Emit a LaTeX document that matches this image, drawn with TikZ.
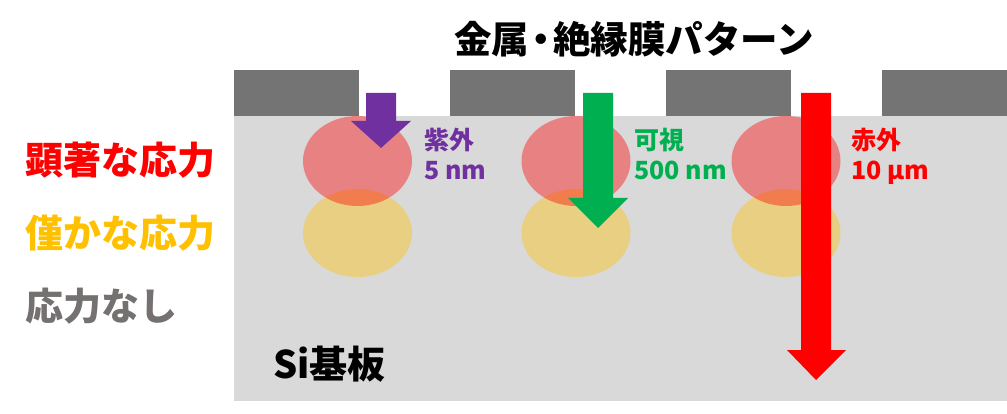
\documentclass[tikz,border=0pt]{standalone}
\usepackage{fontspec}
\setmainfont{Noto Sans CJK JP}
\definecolor{substrate}{HTML}{D9D9D9}
\definecolor{metal}{HTML}{747474}
\definecolor{uvcol}{HTML}{7030A0}
\definecolor{viscol}{HTML}{00B050}
\definecolor{ircol}{HTML}{FF0000}
\definecolor{weakcol}{HTML}{FFC000}
\definecolor{nonecol}{HTML}{767171}
\begin{document}
\begin{tikzpicture}[x=1pt,y=-1pt,
    strong/.style={fill=ircol,fill opacity=0.4},
    weak/.style={fill=weakcol,fill opacity=0.4},
    lbl/.style={anchor=base west,inner sep=0pt,font=\bfseries\fontsize{25}{30}\selectfont},
    legend/.style={anchor=base west,inner sep=0pt,font=\bfseries\fontsize{38}{40}\selectfont}]
    \useasboundingbox (0,0) rectangle (1007,414);
    % substrate
    \fill [substrate] (234,116) rectangle (1007,401);
    % metal / insulator pattern
    \foreach \xa/\xb in {234/359,450/575,666/791,882/1007}
        \fill [metal] (\xa,70) rectangle (\xb,116);
    % stress regions
    \foreach \cx in {357.5,576,786} {
        \fill [weak] (\cx,233) ellipse [x radius=54.5, y radius=44];
        \fill [strong] (\cx,161) ellipse [x radius=54.5, y radius=45];
    }
    % light
    \fill [uvcol] (366,93) -- (396,93) -- (396,121) -- (411,121) -- (381,148) -- (351,121) -- (366,121) -- cycle;
    \fill [viscol] (583,93) -- (613,93) -- (613,198) -- (628,198) -- (598,228) -- (568,198) -- (583,198) -- cycle;
    \fill [ircol] (801,93) -- (831,93) -- (831,350) -- (846,350) -- (816,380) -- (787,350) -- (801,350) -- cycle;
    % lecter
    \node [anchor=base,inner sep=0pt,font=\bfseries\fontsize{37.5}{40}\selectfont] (pattern) at (634,53.5) {金属\kern-0.18em・\kern-0.18em 絶縁膜パターン};
    \node [lbl,text=uvcol] (uvname) at (424,150) {紫外};
    \node [lbl,text=uvcol] (uvdepth) at (424,180) {5 nm};
    \node [lbl,text=viscol] (visname) at (634,150) {可視};
    \node [lbl,text=viscol] (visdepth) at (634,180) {500 nm};
    \node [lbl,text=ircol] (irname) at (851,150) {赤外};
    \node [lbl,text=ircol] (irdepth) at (851,180) {10 μm};
    \node [legend,text=ircol] (strongkey) at (25,174.5) {顕著な応力};
    \node [legend,text=weakcol] (weakkey) at (25,247.5) {僅かな応力};
    \node [legend,text=nonecol] (nonekey) at (25,320) {応力なし};
    \node [anchor=base west,inner sep=0pt,font=\bfseries\fontsize{38}{40}\selectfont] (si) at (273,378) {Si基板};
\end{tikzpicture}
\end{document}
